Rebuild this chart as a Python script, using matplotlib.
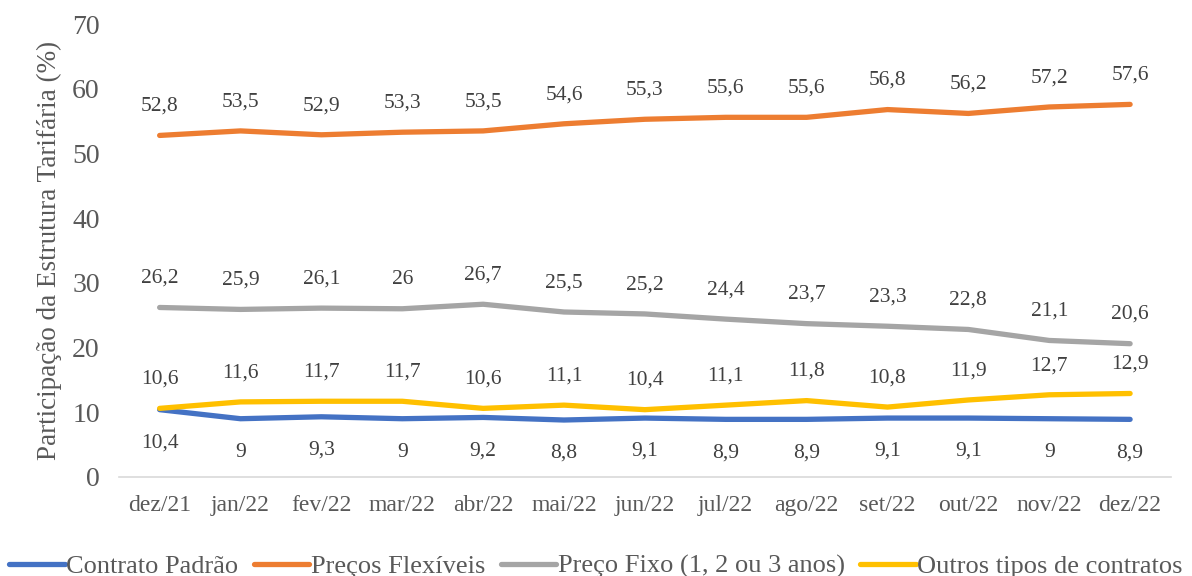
import matplotlib
matplotlib.use("Agg")
import matplotlib.pyplot as plt

months = ["dez/21", "jan/22", "fev/22", "mar/22", "abr/22", "mai/22", "jun/22",
          "jul/22", "ago/22", "set/22", "out/22", "nov/22", "dez/22"]
contrato_padrao = [10.4, 9, 9.3, 9, 9.2, 8.8, 9.1, 8.9, 8.9, 9.1, 9.1, 9, 8.9]
precos_flexiveis = [52.8, 53.5, 52.9, 53.3, 53.5, 54.6, 55.3, 55.6, 55.6, 56.8, 56.2, 57.2, 57.6]
preco_fixo = [26.2, 25.9, 26.1, 26, 26.7, 25.5, 25.2, 24.4, 23.7, 23.3, 22.8, 21.1, 20.6]
outros_contratos = [10.6, 11.6, 11.7, 11.7, 10.6, 11.1, 10.4, 11.1, 11.8, 10.8, 11.9, 12.7, 12.9]

series = [
    ("Contrato Padrão", contrato_padrao, "#4472C4", -24),
    ("Preços Flexíveis", precos_flexiveis, "#ED7D31", 21),
    ("Preço Fixo (1, 2 ou 3 anos)", preco_fixo, "#A5A5A5", 21),
    ("Outros tipos de contratos", outros_contratos, "#FFC000", 21),
]

plt.rcParams["font.family"] = ["Liberation Serif", "DejaVu Serif"]
text_color = "#595959"

fig = plt.figure(figsize=(11.92, 5.76), dpi=100)
ax = fig.add_axes([0.1, 0.172, 0.882, 0.786])

x = list(range(len(months)))


def fmt(v):
    return f"{v:g}".replace(".", ",")


for name, vals, color, offset in series:
    ax.plot(x, vals, color=color, lw=3.8, solid_capstyle="round",
            solid_joinstyle="round", label=name)
    for xi, v in zip(x, vals):
        ax.annotate(fmt(v), (xi, v), xytext=(0, offset), textcoords="offset points",
                    ha="center", va="center", fontsize=15.5, color="#404040")

ax.set_xlim(-0.5, len(months) - 0.5)
ax.set_ylim(0, 70)
ax.set_yticks(range(0, 71, 10))
ax.set_xticks(x)
ax.set_xticklabels(months)
ax.tick_params(axis="both", length=0, colors=text_color)
ax.tick_params(axis="y", labelsize=20, pad=14)
ax.tick_params(axis="x", labelsize=17, pad=13)
for s in ("top", "right", "left"):
    ax.spines[s].set_visible(False)
ax.spines["bottom"].set_color("#D9D9D9")
ax.spines["bottom"].set_linewidth(1.2)

ax.set_ylabel("Participação da Estrutura Tarifária (%)", fontsize=19.5,
              color=text_color, labelpad=7)

leg = fig.legend(loc="lower center", bbox_to_anchor=(0.5, -0.045), ncol=4,
                 frameon=False, fontsize=19, handlelength=2.1, handletextpad=0.05,
                 columnspacing=0.6, labelcolor=text_color)

fig.savefig("out.png", dpi=100)
